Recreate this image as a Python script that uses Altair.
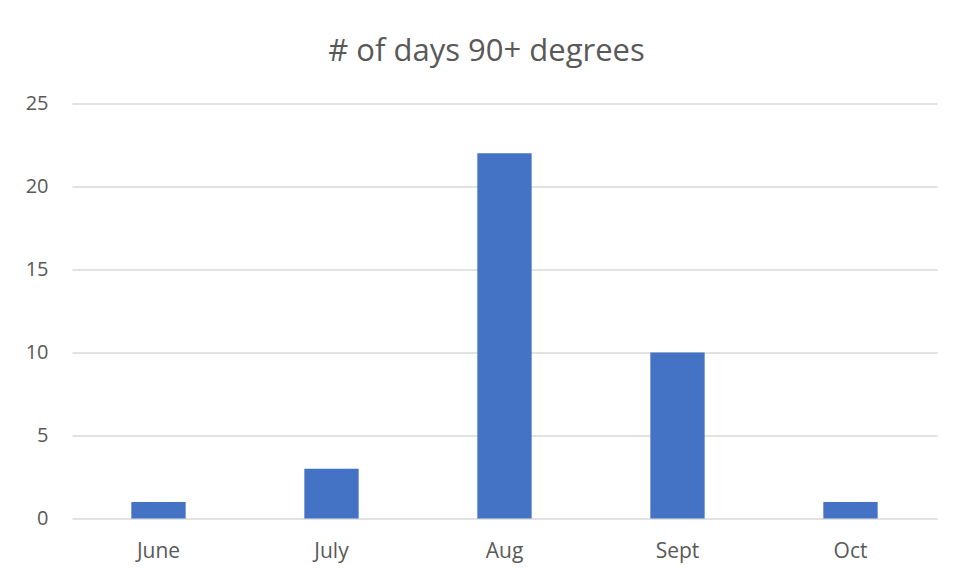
import altair as alt
import pandas as pd

months = ["June", "July", "Aug", "Sept", "Oct"]
days = [1, 3, 22, 10, 1]
title_text = "# of days 90+ degrees"

df = pd.DataFrame({"month": months, "days": days})

FONT = "Open Sans"
GREY = "#595959"
GRID = "#D9D9D9"

bars = alt.Chart(df).mark_bar(color="#4472C4").encode(
    x=alt.X(
        "month:N",
        sort=months,
        title=None,
        scale=alt.Scale(paddingInner=0.686, paddingOuter=0.343),
        axis=alt.Axis(
            labelAngle=0,
            ticks=False,
            domain=False,
            grid=False,
            labelFont=FONT,
            labelFontSize=21,
            labelColor=GREY,
            labelPadding=22,
        ),
    ),
    y=alt.Y(
        "days:Q",
        title=None,
        scale=alt.Scale(domain=[0, 25], nice=False),
        axis=alt.Axis(
            values=[0, 5, 10, 15, 20, 25],
            ticks=False,
            domain=False,
            grid=True,
            gridColor=GRID,
            gridWidth=1.3,
            labelFont=FONT,
            labelFontSize=20,
            labelColor=GREY,
            labelPadding=24,
        ),
    ),
)

title_df = pd.DataFrame({"t": [title_text]})
title = alt.Chart(title_df).mark_text(
    font=FONT, fontSize=31, color=GREY, align="center", baseline="alphabetic"
).encode(
    text="t:N",
    x=alt.value(414.5),
    y=alt.value(-42.5),
)

chart = (
    alt.layer(bars, title)
    .properties(
        width=865,
        height=415,
        background="white",
        autosize=alt.AutoSizeParams(type="none"),
        padding={"left": 64, "top": 95.5, "right": 9, "bottom": 49},
    )
    .configure_view(strokeWidth=0, stroke="transparent")
)

chart.save("out.html", embed_options={"renderer": "svg", "actions": False})
